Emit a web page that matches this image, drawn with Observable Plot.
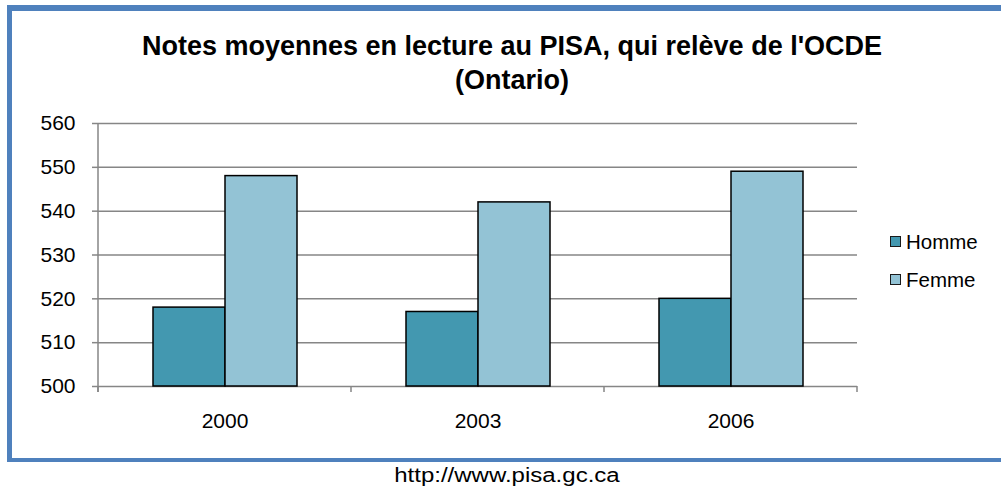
<!DOCTYPE html>
<html>
<head>
<meta charset="utf-8">
<script src="https://cdn.jsdelivr.net/npm/d3@7"></script>
<script src="https://cdn.jsdelivr.net/npm/@observablehq/plot@0.6"></script>
<style>
  html, body { margin: 0; padding: 0; background: #fff; width: 1001px; height: 489px; overflow: hidden; }
  body { position: relative; font-family: "Liberation Sans", Arial, sans-serif; color: #000; }
  #frame { position: absolute; left: 7px; top: 5px; width: 1020px; height: 447px;
           border-style: solid; border-color: #4f81bd; border-width: 6px 0 4px 5px; }
  #title { position: absolute; left: 0; width: 1024px; top: 29px; text-align: center;
           font-weight: bold; font-size: 27px; line-height: 34px; }
  #chart { position: absolute; left: 0; top: 100px; }
  #legend { position: absolute; left: 890px; top: 227px; font-size: 20.5px; }
  .item { position: relative; height: 38px; }
  .sw { position: absolute; left: 0; top: 9px; width: 9px; height: 9px; border: 1.5px solid #1a1a1a; }
  .lb { position: absolute; left: 16px; top: 3px; line-height: 24px; white-space: nowrap; }
  #caption { position: absolute; left: 0; width: 1013px; top: 463px; text-align: center; font-size: 20px; line-height: 24px; }
  #caption span { display: inline-block; transform: scaleX(1.2); transform-origin: center; }
  #chart g[aria-label^="y-axis"] line, #chart g[aria-label^="y-axis"] path { stroke: #868686; stroke-width: 1.5; }
</style>
</head>
<body>
<div id="frame"></div>
<div id="title">Notes moyennes en lecture au PISA, qui relève de l'OCDE<br>(Ontario)</div>
<div id="chart"></div>
<div id="legend"></div>
<div id="caption"><span>http://www.pisa.gc.ca</span></div>
<script>
const years = ["2000", "2003", "2006"];
const sexes = ["Homme", "Femme"];
const homme = [518, 517, 520];
const femme = [548, 542, 549];
const yTicks = [500, 510, 520, 530, 540, 550, 560];
const colors = ["#4398b0", "#93c3d5"];
const gridColor = "#868686";

const data = years.flatMap((yr, i) => [
  {year: yr, sex: sexes[0], value: homme[i]},
  {year: yr, sex: sexes[1], value: femme[i]}
]);

const chart = Plot.plot({
  width: 1001,
  height: 330,
  marginTop: 23,
  marginBottom: 44,
  marginLeft: 97,
  marginRight: 144,
  style: {fontFamily: "'Liberation Sans', Arial, sans-serif", fontSize: "21px", color: "#000", background: "transparent", overflow: "visible"},
  fx: {domain: years, padding: 0, label: null, tickSize: 0, tickPadding: 27, axis: "bottom"},
  x: {domain: sexes, paddingInner: 0, paddingOuter: 0.75, axis: null},
  y: {domain: [yTicks[0], yTicks[yTicks.length - 1]], ticks: yTicks, tickSize: 6, tickPadding: 17, label: null, tickFormat: d => String(d)},
  color: {domain: sexes, range: colors},
  marks: [
    Plot.ruleY(yTicks, {stroke: gridColor, strokeWidth: 1.5}),
    Plot.barY(data, {fx: "year", x: "sex", y1: yTicks[0], y2: "value", fill: "sex", stroke: "#000", strokeWidth: 1.5})
  ]
});
document.getElementById("chart").appendChild(chart);

// axis line and category boundary ticks, placed from Plot's own scales
const fx = chart.scale("fx");
const ys = chart.scale("y");
const yBase = ys.apply(yTicks[0]);
const yTop = ys.apply(yTicks[yTicks.length - 1]);
const bounds = years.map(yr => fx.apply(yr)).concat([fx.apply(years[years.length - 1]) + fx.bandwidth]);
const svg = d3.select(chart);
const g = svg.append("g").attr("stroke", gridColor).attr("stroke-width", 1.5);
g.append("line").attr("x1", bounds[0]).attr("x2", bounds[0]).attr("y1", yTop).attr("y2", yBase + 6);
bounds.forEach(b => g.append("line").attr("x1", b).attr("x2", b).attr("y1", yBase).attr("y2", yBase + 6));

// legend
const legend = d3.select("#legend");
sexes.forEach((s, i) => {
  const it = legend.append("div").attr("class", "item");
  it.append("div").attr("class", "sw").style("background", colors[i]);
  it.append("div").attr("class", "lb").text(s);
});
</script>
</body>
</html>
